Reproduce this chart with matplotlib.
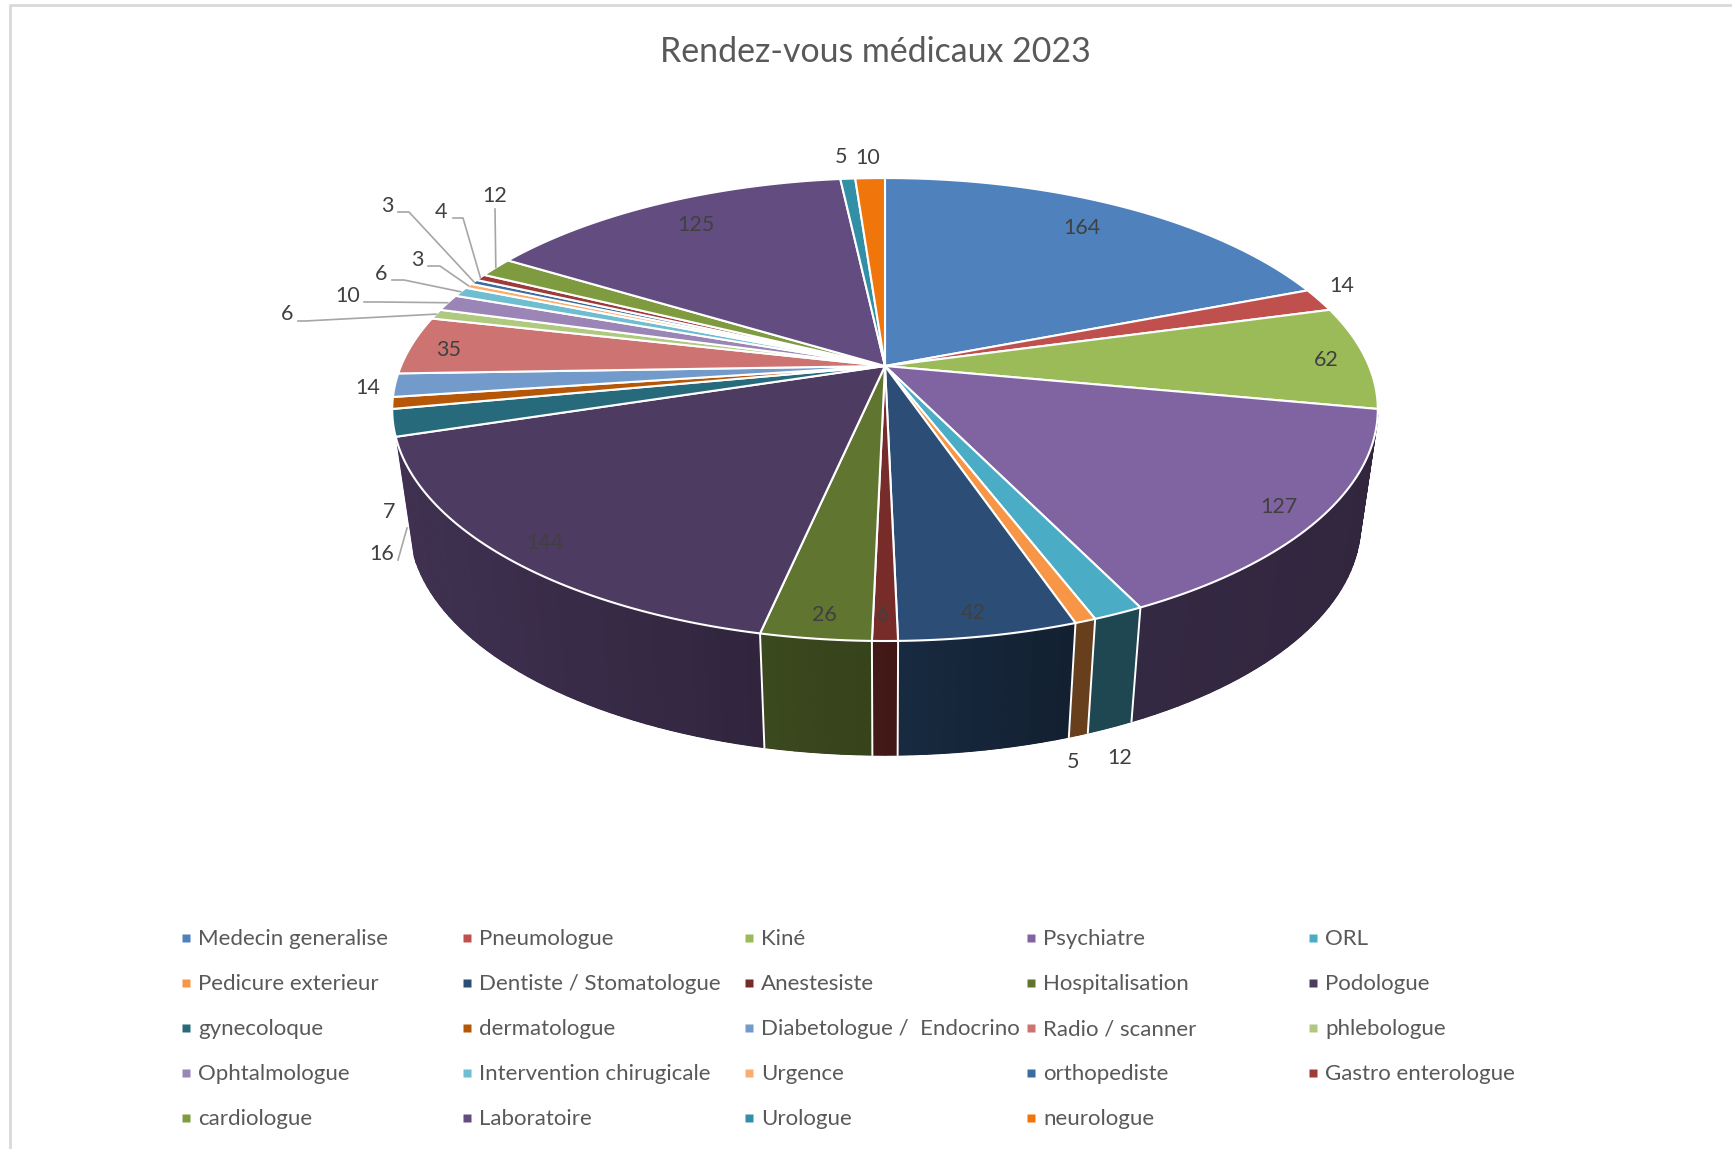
import numpy as np
import matplotlib
matplotlib.use("Agg")
import matplotlib.pyplot as plt

# =============================
# Data
# =============================
TITLE = "Rendez-vous médicaux 2023"
categories = ["Medecin generalise", "Pneumologue", "Kiné", "Psychiatre", "ORL",
              "Pedicure exterieur", "Dentiste / Stomatologue", "Anestesiste",
              "Hospitalisation", "Podologue", "gynecoloque", "dermatologue",
              "Diabetologue /  Endocrino", "Radio / scanner", "phlebologue",
              "Ophtalmologue", "Intervention chirugicale", "Urgence",
              "orthopediste", "Gastro enterologue", "cardiologue", "Laboratoire",
              "Urologue", "neurologue"]
values = [164, 14, 62, 127, 12, 5, 42, 6, 26, 144, 16, 7, 14, 35, 6, 10, 6, 3, 3, 4,
          12, 125, 5, 10]

# =============================
# Style
# =============================
colors = ["#4F81BD", "#C0504D", "#9BBB59", "#8064A2", "#4BACC6", "#F79646", "#2C4D75",
          "#772C2A", "#5F7530", "#4D3B62", "#276A7C", "#B65708", "#729ACA", "#CD7371",
          "#AFC97F", "#9B85B6", "#6FBDD1", "#F9AE6F", "#3A6CA0", "#9E3A38", "#7E9C3F",
          "#634C80", "#338FA6", "#F0760C"]
TEXT = "#404040"
LEGEND_TEXT = "#595959"
FONT = "Lato"

# label centres in pixels
label_pos = [(1082, 228), (1342, 286), (1326, 360), (1279, 507), (1120, 758), (1073, 762),
             (973, 613), (883, 615), (824, 615), (545, 543), (382, 554), (389, 512),
             (368, 388), (449, 350), (287, 314), (348, 296), (381, 274), (417, 260),
             (387, 206), (441, 212), (495, 196), (696, 225), (841, 157), (868, 158)]
# leader line elbows, in pixels; the line then runs on to the rim of its slice
elbows = {14: [(298, 321), (305, 321)], 15: [(364, 302), (380, 302)],
          16: [(392, 280), (404, 280)], 17: [(428, 266), (440, 266)],
          18: [(398, 212), (409, 212)], 19: [(453, 218), (463, 218)],
          20: [(495, 209)]}
wall_leader = [(398, 560), (407, 528)]

# =============================
# Pie geometry (perspective view of a disc)
# =============================
CX, CY = 885, 366
B, A, K = 484, 223.3, 0.188
DEPTH = 114
INSET = 0.965
LEFT_WALL_START = -0.3   # the left side of the wall only shows below this cos(t)


def rim(t, depth=0.0):
    u, v = np.sin(t), np.cos(t)
    w = 1 + K * v
    x = B * u / w
    y = A * v / w
    scale = 1 + (INSET - 1) * depth
    return CX + x * scale, CY - y + DEPTH * depth


def wall_visible(t):
    return (np.cos(t) < -K) & ~((np.sin(t) < 0) & (np.cos(t) > LEFT_WALL_START + 1e-6))


def shade(t):
    return np.interp(np.sin(t), [-1, -0.5, 0, 0.3, 0.6, 1], [0.85, 0.72, 0.56, 0.42, 0.4, 0.38])


def darken(hex_color, f):
    rgb = np.array(matplotlib.colors.to_rgb(hex_color))
    return tuple(rgb * f)


fig = plt.figure(figsize=(17.33, 11.49), dpi=100)
ax = fig.add_axes([0, 0, 1, 1])
ax.set_xlim(0, 1733)
ax.set_ylim(1149, 0)
ax.axis("off")

# chart border (only top and left are in frame)
ax.plot([10, 10, 1733], [1149, 5, 5], color="#D9D9D9", lw=2, zorder=1)

edges = np.concatenate([[0], np.cumsum(values)]) / np.sum(values) * 2 * np.pi
mids = (edges[:-1] + edges[1:]) / 2

# Walls first, they stay below the top face
for i, col in enumerate(colors):
    a0, a1 = edges[i], edges[i + 1]
    ts = np.linspace(a0, a1, max(int((a1 - a0) * 40), 2) + 1)
    ts = ts[wall_visible(ts)]
    if len(ts) < 2:
        continue
    # base polygon, so the strips leave no seams
    xt, yt = rim(ts)
    xb, yb = rim(ts, 1)
    base = darken(col, shade(ts[len(ts) // 2]))
    ax.fill(np.r_[xt, xb[::-1]], np.r_[yt, yb[::-1]], facecolor=base, edgecolor=base, lw=0.5, zorder=2)
    for t0, t1 in zip(ts[:-1], ts[1:]):
        x0, y0 = rim(t0)
        x1, y1 = rim(t1)
        x2, y2 = rim(t1, 1)
        x3, y3 = rim(t0, 1)
        c = darken(col, shade((t0 + t1) / 2))
        ax.fill([x0, x1, x2, x3], [y0, y1, y2, y3], facecolor=c, edgecolor=c, lw=1.0, zorder=2)

# slice borders on the wall
for t in edges[:-1]:
    if wall_visible(t) and np.cos(t) < LEFT_WALL_START:
        x0, y0 = rim(t)
        x1, y1 = rim(t, 1)
        ax.plot([x0, x1], [y0, y1], color="white", lw=1.4, zorder=3)

# Top face
for i, col in enumerate(colors):
    ts = np.linspace(edges[i], edges[i + 1], 60)
    xs, ys = rim(ts)
    ax.fill(np.r_[CX, xs], np.r_[CY, ys], facecolor=col, edgecolor="white", lw=1.5,
            joinstyle="round", zorder=4)

# Leader lines
for i, pts in elbows.items():
    ex, ey = rim(mids[i])
    px = [p[0] for p in pts] + [ex]
    py = [p[1] for p in pts] + [ey]
    ax.plot(px, py, color="#A6A6A6", lw=1.2, zorder=5)
ax.plot(*zip(*wall_leader), color="#A6A6A6", lw=1.2, zorder=5)

# Value labels
for v, (x, y) in zip(values, label_pos):
    ax.text(x, y, str(v), ha="center", va="center", color=TEXT, family=FONT, fontsize=15.5, zorder=6)

ax.text(875, 52, TITLE, ha="center", va="center", color="#595959", family=FONT, fontsize=24.4)

# =============================
# Legend (5 columns, filled row by row)
# =============================
col_x = [186, 467, 749, 1031, 1313]
row_y = [938, 983, 1028, 1073, 1118]
for i, (name, col) in enumerate(zip(categories, colors)):
    r, c = divmod(i, 5)
    ax.plot(col_x[c], row_y[r], marker="s", ms=6, color=col, mec="none", zorder=6)
    ax.text(col_x[c] + 12, row_y[r] + 7, name, ha="left", va="baseline", color=LEGEND_TEXT,
            family=FONT, fontsize=16, zorder=6)

fig.savefig("out.png", dpi=100)
